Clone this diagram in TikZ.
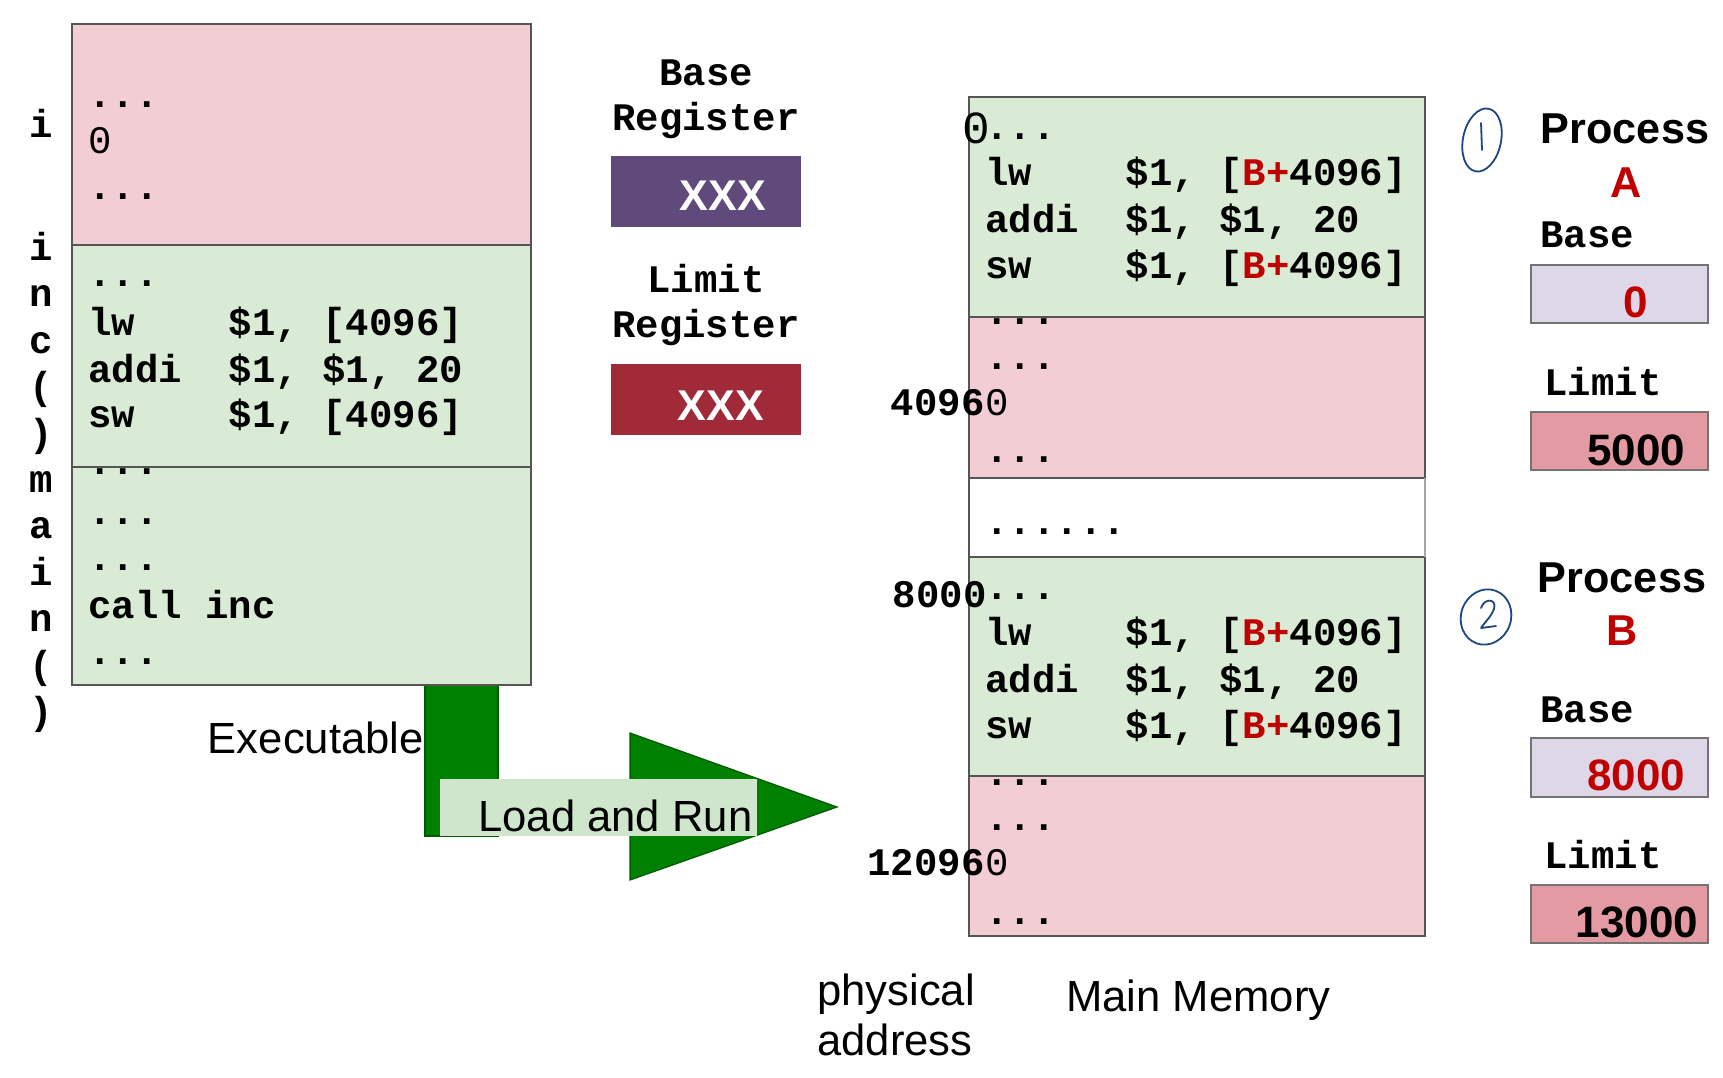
\documentclass[tikz,border=0pt]{standalone}
\usepackage{fontspec}
\setmainfont{Liberation Sans}
\newfontfamily\cour{Liberation Mono}
\definecolor{pinkc}{RGB}{242,205,211}
\definecolor{greenc}{RGB}{217,234,213}
\definecolor{edgec}{RGB}{85,85,85}
\definecolor{dgreen}{RGB}{0,128,0}
\definecolor{stemedge}{RGB}{0,90,0}
\definecolor{lgreen}{RGB}{207,229,204}
\definecolor{purp}{RGB}{96,73,123}
\definecolor{dred}{RGB}{160,42,56}
\definecolor{redt}{RGB}{192,0,0}
\definecolor{lav}{RGB}{222,215,232}
\definecolor{rose}{RGB}{228,154,162}
\definecolor{regedge}{RGB}{115,115,115}
\definecolor{pen}{RGB}{30,70,130}
\tikzset{
 code/.style={font=\cour\bfseries\fontsize{19.5}{23}\selectfont, inner sep=0pt, anchor=base west},
 codereg/.style={font=\cour\fontsize{19.5}{23}\selectfont, inner sep=0pt, anchor=base west},
 vlab/.style={font=\cour\bfseries\fontsize{19.5}{23}\selectfont, inner sep=0pt, anchor=base},
 addr/.style={font=\cour\bfseries\fontsize{19.5}{23}\selectfont, inner sep=0pt, anchor=base east},
 sans/.style={font=\fontsize{21.8}{26}\selectfont, inner sep=0pt, anchor=base west},
 sansb/.style={font=\bfseries\fontsize{21.6}{26}\selectfont, inner sep=0pt, anchor=base},
 block/.style={draw=edgec, line width=1.2pt},
 regbox/.style={draw=regedge, line width=1.1pt},
 penline/.style={draw=pen, line width=0.9pt, line cap=round, line join=round},
}
\begin{document}
\begin{tikzpicture}[x=0.5pt,y=-0.5pt]
\useasboundingbox (0,0) rectangle (1723,1077);
\fill[white] (0,0) rectangle (1723,1077);

% ---- executable stem, arrow ----
\draw[fill=dgreen, draw=stemedge, line width=0.6pt] (425,684) rectangle (498,836);
\draw[fill=dgreen, draw=stemedge, line width=0.6pt] (630,733) -- (837,807) -- (630,880) -- cycle;
\fill[lgreen] (440,779) rectangle (757,836);
\node[sans, anchor=base east] (exe) at (424,753) {Executable};
\node[sans] (load) at (478,831) {Load and Run};

% ---- left executable box ----
\fill[pinkc] (72,24) rectangle (531,245);
\fill[greenc] (72,245) rectangle (531,685);
\draw[block] (72,24) rectangle (531,685);
\draw[block] (72,245) -- (531,245);
\draw[block] (72,467) -- (531,467);

\node[code] (l1) at (88,107) {...};
\node[codereg] (l2) at (88,153) {0};
\node[code] (l3) at (88,199) {...};
\node[code] (l4) at (88,286) {...};
\node[code] (l5) at (88,335) {lw\ \ \ \ \$1,\ [4096]};
\node[code] (l6) at (88,382) {addi\ \ \$1,\ \$1,\ 20};
\node[code] (l7) at (88,427) {sw\ \ \ \ \$1,\ [4096]};
\node[code] (l8) at (88,474) {...};
\node[code] (l9) at (88,524) {...};
\node[code] (l10) at (88,570) {...};
\node[code] (l11) at (88,618) {call\ inc};
\node[code] (l12) at (88,664) {...};

% ---- vertical labels ----
\node[vlab] (vi) at (41,137) {i};
\node[vlab] (v0) at (41,260) {i};
\node[vlab] (v1) at (41,306) {n};
\node[vlab] (v2) at (41,353) {c};
\node[vlab] (v3) at (41,399) {(};
\node[vlab] (v4) at (41,446) {)};
\node[vlab] (v5) at (41,492) {m};
\node[vlab] (v6) at (41,538) {a};
\node[vlab] (v7) at (41,585) {i};
\node[vlab] (v8) at (41,631) {n};
\node[vlab] (v9) at (41,678) {(};
\node[vlab] (v10) at (41,724) {)};

% ---- registers ----
\node[vlab] (br1) at (706,85) {Base};
\node[vlab] (br2) at (706,130) {Register};
\fill[purp] (611,156) rectangle (801,227);
\node[sansb, text=white, font=\bfseries\fontsize{21.5}{26}\selectfont] (bx) at (723,210) {XXX};
\node[vlab] (lr1) at (706,292) {Limit};
\node[vlab] (lr2) at (706,337) {Register};
\fill[dred] (611,364) rectangle (801,435);
\node[sansb, text=white, font=\bfseries\fontsize{21.5}{26}\selectfont] (lx) at (721,420) {XXX};

% ---- main memory ----
\fill[greenc] (969,97) rectangle (1425,317);
\fill[pinkc] (969,317) rectangle (1425,478);
\fill[greenc] (969,557) rectangle (1425,776);
\fill[pinkc] (969,776) rectangle (1425,936);
\draw[block] (969,97) rectangle (1425,478);
\draw[block] (969,317) -- (1425,317);
\draw[block] (969,557) rectangle (1425,936);
\draw[block] (969,776) -- (1425,776);
\draw[draw=edgec, line width=1.2pt] (969,478) -- (969,557);
\draw[draw=gray!70, line width=1.2pt] (1425,478) -- (1425,557);

\node[addr, font=\cour\fontsize{23}{26}\selectfont] (a0) at (990,143) {0};
\node[code] (m1) at (985,139) {...};
\node[code] (m2) at (985,185) {lw\ \ \ \ \$1,\ [\textcolor{redt}{B+}4096]};
\node[code] (m3) at (985,232) {addi\ \ \$1,\ \$1,\ 20};
\node[code] (m4) at (985,278) {sw\ \ \ \ \$1,\ [\textcolor{redt}{B+}4096]};
\node[code] (m5) at (985,324) {...};
\node[code] (m6) at (985,369) {...};
\node[addr] (a1) at (985,415) {4096};
\node[codereg] (m7) at (985,415) {0};
\node[code] (m8) at (985,462) {...};
\node[code] (m9) at (985,534) {......};
\node[addr] (a2) at (987,607) {8000};
\node[code] (m10) at (985,599) {...};
\node[code] (m11) at (985,645) {lw\ \ \ \ \$1,\ [\textcolor{redt}{B+}4096]};
\node[code] (m12) at (985,692) {addi\ \ \$1,\ \$1,\ 20};
\node[code] (m13) at (985,738) {sw\ \ \ \ \$1,\ [\textcolor{redt}{B+}4096]};
\node[code] (m14) at (985,785) {...};
\node[code] (m15) at (985,830) {...};
\node[addr] (a3) at (985,875) {12096};
\node[codereg] (m16) at (985,875) {0};
\node[code] (m17) at (985,924) {...};

\node[sans] (phys1) at (817,1005) {physical};
\node[sans] (phys2) at (817,1055) {address};
\node[sans] (mm) at (1066,1011) {Main Memory};

% ---- process A ----
\node[sansb] (pa) at (1625,143) {Process};
\node[sansb, text=redt] (pan) at (1626,197) {A};
\node[code] (pab) at (1540,247) {Base};
\draw[regbox, fill=lav] (1531,265) rectangle (1708,323);
\node[sansb, text=redt, font=\bfseries\fontsize{22}{26}\selectfont] (pabv) at (1636,317) {0};
\node[code] (pal) at (1544,395) {Limit};
\draw[regbox, fill=rose] (1531,412) rectangle (1708,470);
\node[sansb, font=\bfseries\fontsize{22}{26}\selectfont] (palv) at (1636,465) {5000};

% ---- process B ----
\node[sansb] (pb) at (1622,592) {Process};
\node[sansb, text=redt] (pbn) at (1622,645) {B};
\node[code] (pbb) at (1540,722) {Base};
\draw[regbox, fill=lav] (1531,738) rectangle (1708,797);
\node[sansb, text=redt, font=\bfseries\fontsize{22}{26}\selectfont] (pbbv) at (1636,790) {8000};
\node[code] (pbl) at (1544,868) {Limit};
\draw[regbox, fill=rose] (1531,885) rectangle (1708,943);
\node[sansb, font=\bfseries\fontsize{22}{26}\selectfont] (pblv) at (1637,937) {13000};

% ---- hand-drawn marks ----
\draw[penline, rotate around={-12:(1482,140)}] (1482,140) ellipse [x radius=19, y radius=32];
\draw[penline] (1481,123) -- (1482,150);
\draw[penline, rotate around={-20:(1486,617)}] (1486,617) ellipse [x radius=25, y radius=28];
\draw[penline] (1481,608) .. controls (1484,598) and (1497,598) .. (1494,609)
  .. controls (1491,617) and (1484,623) .. (1481,628) -- (1496,626);
\end{tikzpicture}
\end{document}
